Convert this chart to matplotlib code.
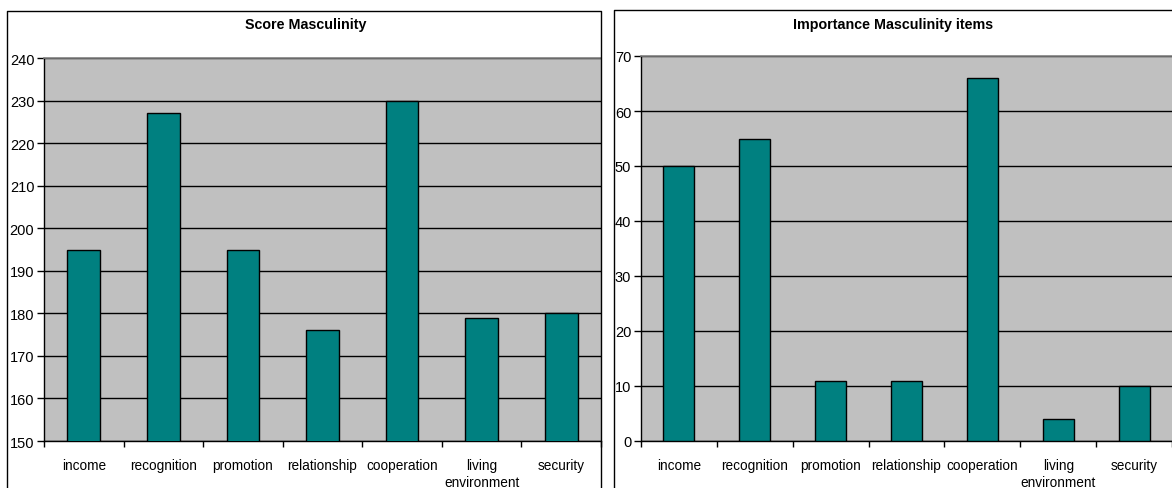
import matplotlib
matplotlib.use('Agg')
import matplotlib.pyplot as plt
from matplotlib.lines import Line2D

categories = ['income', 'recognition', 'promotion', 'relationship',
              'cooperation', 'living\nenvironment', 'security']
score = [195, 227, 195, 176, 230, 179, 180]
importance = [50, 55, 11, 11, 66, 4, 10]

W, H = 1172, 489
plt.rcParams['font.family'] = ['Liberation Sans', 'DejaVu Sans']


def box(x0, y0, x1, y1):
    # axes rectangle in pixel coords (top-left origin)
    return [x0 / W, 1 - y1 / H, (x1 - x0) / W, (y1 - y0) / H]


def excel_bars(ax, values, ylim, right_px, left_px, slot):
    n = len(values)
    xmax = (right_px - left_px) / slot - 0.5
    ax.set_facecolor('#c0c0c0')
    ax.bar(range(n), values, width=0.41, color='#008080', edgecolor='black',
           linewidth=1, zorder=3)
    ax.set_xlim(-0.5, xmax)
    ax.set_ylim(*ylim)
    ax.set_yticks(range(ylim[0], ylim[1] + 1, 10))
    ax.yaxis.grid(True, color='black', linewidth=1, zorder=1)
    ax.set_axisbelow(True)
    ax.set_xticks(range(n))
    ax.set_xticklabels(categories, fontsize=9.8, linespacing=1.3)
    ax.tick_params(axis='x', length=0, pad=12)
    ax.set_xticks([i - 0.5 for i in range(n + 1)], minor=True)
    ax.tick_params(axis='x', which='minor', length=4, width=1, direction='out')
    ax.tick_params(axis='y', length=5, width=1, labelsize=10.5, pad=2)
    for s in ['left', 'bottom']:
        ax.spines[s].set_color('black')
        ax.spines[s].set_linewidth(1)
    ax.spines['top'].set_color('#808080')
    ax.spines['top'].set_linewidth(1.2)
    ax.spines['right'].set_visible(False)


fig = plt.figure(figsize=(W / 100, H / 100), dpi=100)

# chart borders
fig.add_artist(Line2D([7 / W, 7 / W, 601 / W, 601 / W],
                      [0, 1 - 12 / H, 1 - 12 / H, 0], color='black', lw=1))
fig.add_artist(Line2D([614 / W, 614 / W, 1],
                      [0, 1 - 11 / H, 1 - 11 / H], color='black', lw=1))

ax1 = fig.add_axes(box(44, 59, 601, 442))
excel_bars(ax1, score, (150, 240), 601, 44, 79.8)
fig.text(306 / W, 1 - 25 / H, 'Score Masculinity', ha='center', va='center',
         fontsize=10.3, fontweight='bold')

ax2 = fig.add_axes(box(641, 57, 1172, 442))
excel_bars(ax2, importance, (0, 70), 1172, 641, 77.2)
fig.text(893 / W, 1 - 25 / H, 'Importance Masculinity items', ha='center',
         va='center', fontsize=10.3, fontweight='bold')

fig.savefig('out.png', dpi=100)
